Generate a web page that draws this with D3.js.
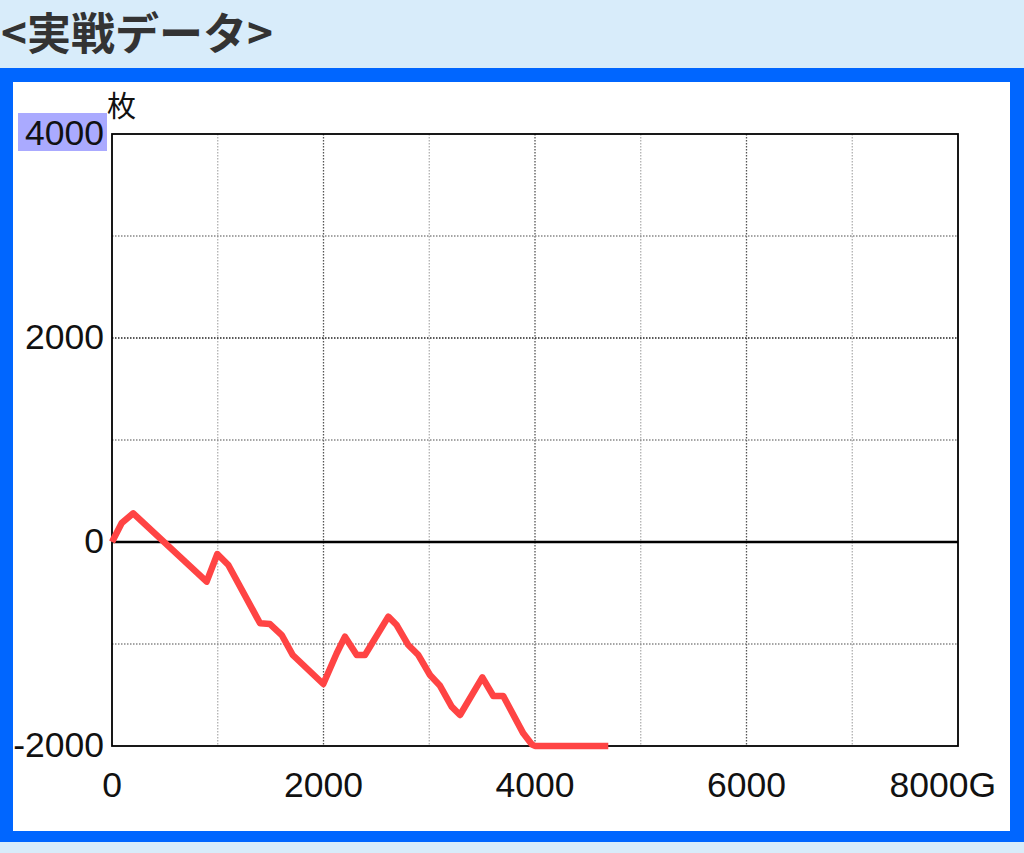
<!DOCTYPE html>
<html><head><meta charset="utf-8">
<script src="https://cdn.jsdelivr.net/npm/d3@7"></script>
<style>html,body{margin:0;padding:0;background:#d8ecfa;}svg{display:block;}</style>
</head><body>
<script>
// Data (games G, medals 枚)
const games = [0, 92, 201, 895, 996, 1100, 1400, 1494, 1605, 1709, 1998, 2125, 2203, 2314, 2392, 2613, 2692, 2802, 2897, 3007, 3102, 3212, 3291, 3502, 3606, 3700, 3889, 3969, 4000, 4693];
const medals = [0, 186, 281, -389, -118, -225, -797, -804, -912, -1108, -1392, -1091, -928, -1108, -1108, -732, -814, -1010, -1108, -1304, -1410, -1614, -1696, -1327, -1510, -1510, -1876, -1983, -2000, -2000];
const xTicks = [0, 2000, 4000, 6000, 8000];
const xTickLabels = ["0", "2000", "4000", "6000", "8000G"];
const yTicks = [-2000, 0, 2000, 4000];
const yTickLabels = ["-2000", "0", "2000", "4000"];
const xMinorGrid = [1000, 3000, 5000, 7000];
const xMajorGrid = [2000, 4000, 6000];
const yMinorGrid = [-1000, 1000, 3000];
const yMajorGrid = [2000];
const title = "<実戦データ>";
const unitLabel = "枚";

(function(){
const W = 1024, H = 853;
const svg = d3.select("body").append("svg").attr("width", W).attr("height", H);

// background bands
svg.append("rect").attr("x",0).attr("y",0).attr("width",W).attr("height",H).attr("fill","#d8ecfa");
svg.append("rect").attr("x",0).attr("y",68).attr("width",W).attr("height",774).attr("fill","#0066ff");
svg.append("rect").attr("x",13).attr("y",82).attr("width",997).attr("height",749).attr("fill","#ffffff");

svg.append("text").attr("x",1).attr("y",50).text(title)
  .attr("font-family","'Noto Sans CJK JP', sans-serif").attr("font-weight","bold")
  .attr("font-size",44).attr("fill","#333333");

const pl = 112, pr = 958, pt = 134, pb = 746;
const x = d3.scaleLinear().domain([0, 8000]).range([pl, pr]);
const y = d3.scaleLinear().domain([-2000, 4000]).range([pb, pt]);

// grid
const g = svg.append("g");
g.selectAll(".xmin").data(xMinorGrid).enter().append("line")
  .attr("x1",d=>x(d)).attr("x2",d=>x(d)).attr("y1",pt).attr("y2",pb)
  .attr("stroke","#aaaaaa").attr("stroke-width",1.2).attr("stroke-dasharray","1.5,1.5");
g.selectAll(".xmaj").data(xMajorGrid).enter().append("line")
  .attr("x1",d=>x(d)).attr("x2",d=>x(d)).attr("y1",pt).attr("y2",pb)
  .attr("stroke","#555555").attr("stroke-width",1.3).attr("stroke-dasharray","1.5,1.5");
g.selectAll(".ymin").data(yMinorGrid).enter().append("line")
  .attr("y1",d=>y(d)).attr("y2",d=>y(d)).attr("x1",pl).attr("x2",pr)
  .attr("stroke","#888888").attr("stroke-width",1.3).attr("stroke-dasharray","1.5,1.5");
g.selectAll(".ymaj").data(yMajorGrid).enter().append("line")
  .attr("y1",d=>y(d)).attr("y2",d=>y(d)).attr("x1",pl).attr("x2",pr)
  .attr("stroke","#222222").attr("stroke-width",1.5).attr("stroke-dasharray","1.5,1.5");

// zero line
svg.append("line").attr("x1",pl).attr("x2",pr).attr("y1",y(0)).attr("y2",y(0))
  .attr("stroke","#000").attr("stroke-width",2.5);

// frame
svg.append("rect").attr("x",pl).attr("y",pt).attr("width",pr-pl).attr("height",pb-pt)
  .attr("fill","none").attr("stroke","#000").attr("stroke-width",1.8);

// data line
const pts = games.map((d,i)=>[d, medals[i]]);
svg.append("path").datum(pts)
  .attr("d", d3.line().x(d=>x(d[0])).y(d=>y(d[1])))
  .attr("fill","none").attr("stroke","#ff4444").attr("stroke-width",6.5)
  .attr("stroke-linejoin","round").attr("stroke-linecap","butt");

// y labels
const font = "'Liberation Sans', Arial, sans-serif";
svg.append("rect").attr("x",18).attr("y",113).attr("width",89).attr("height",38).attr("fill","#aaaaff");
svg.selectAll(".ylab").data(yTicks).enter().append("text")
  .attr("x",104).attr("y",d=>y(d)+11).attr("text-anchor","end")
  .attr("font-family",font).attr("font-size",35.5).attr("fill","#111")
  .text((d,i)=>yTickLabels[i]);

// x labels
svg.selectAll(".xlab").data(xTicks).enter().append("text")
  .attr("x",(d,i)=> i===xTicks.length-1 ? 996 : x(d))
  .attr("y",797)
  .attr("text-anchor",(d,i)=> i===xTicks.length-1 ? "end" : "middle")
  .attr("font-family",font).attr("font-size",35.5).attr("fill","#111")
  .text((d,i)=>xTickLabels[i]);

svg.append("text").attr("x",107).attr("y",117).text(unitLabel)
  .attr("font-family","'Noto Sans CJK JP', sans-serif").attr("font-size",29).attr("fill","#111");
})();
</script>
</body></html>
